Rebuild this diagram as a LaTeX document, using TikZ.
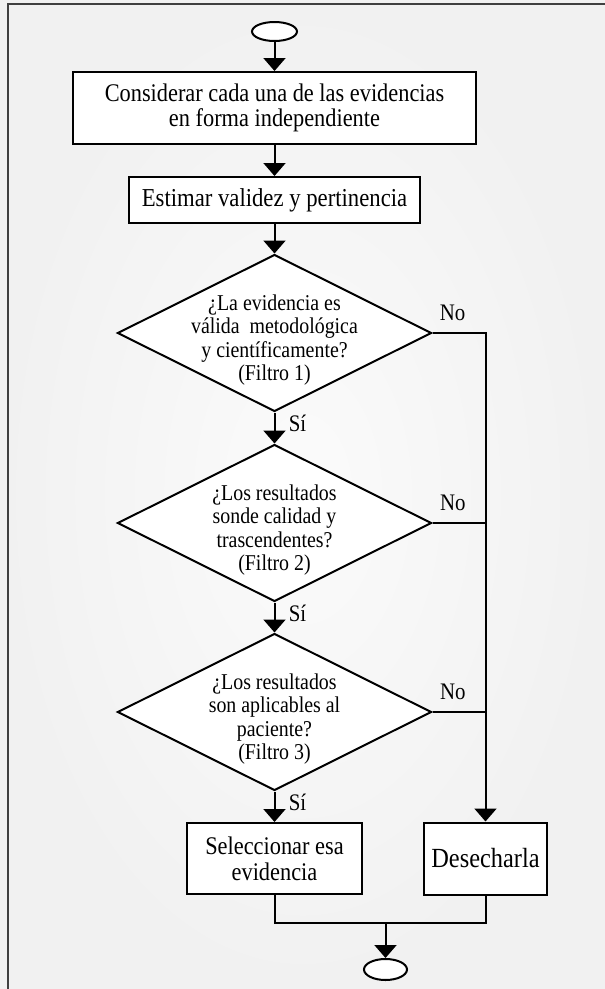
\documentclass[tikz,border=0pt]{standalone}
\usepackage{fontspec}
\setmainfont{Liberation Serif}[FakeStretch=0.88]
\usetikzlibrary{shapes.geometric, arrows.meta, positioning}

\begin{document}
\begin{tikzpicture}[x=1pt,y=-1pt,->,>={Triangle[width=22pt,length=13pt]},line width=2pt]
       \tikzstyle{terminal}=[ellipse,draw,fill=white,inner sep=0pt,minimum width=45pt,minimum height=19pt]
       \tikzstyle{task}=[rectangle,draw,fill=white,align=center,font=\fontsize{25.4}{25.7}\selectfont]
       \tikzstyle{decision}=[diamond,draw,fill=white,inner sep=0pt,minimum width=314pt,minimum height=157pt]
       \tikzstyle{ask}=[align=center,font=\fontsize{22.6}{23.3}\selectfont,yshift=-7pt]
       \tikzstyle{answer}=[font=\fontsize{23.7}{24}\selectfont]

       % fondo y marco
       \useasboundingbox (0,0) rectangle (605,989);
       \shade[inner color=gray!3,outer color=gray!11] (0,0) rectangle (605,989);
       \draw[-,line width=1.2pt,black!75] (8,995) -- (8,4) -- (608,4);

       \node[terminal] (A) at (274.5,31.5) {};

       \node[task] (B) [below of=A, node distance=76.5pt, minimum width=403pt, minimum height=72pt] {Considerar cada una de las evidencias\\en forma independiente};
       \node[task] (C) [below of=B, node distance=92pt, minimum width=291pt, minimum height=46pt, font=\fontsize{25.8}{28}\selectfont] {Estimar validez y pertinencia};

       \node[decision] (D) [below of=C, node distance=133pt, label={[ask]center:{¿La evidencia es\\válida\ \ metodológica\\y científicamente?\\(Filtro 1)}}] {};
       \node[decision] (E) [below of=D, node distance=190pt, label={[ask]center:{¿Los resultados\\sonde calidad y\\trascendentes?\\(Filtro 2)}}] {};
       \node[decision] (F) [below of=E, node distance=189pt, label={[ask]center:{¿Los resultados\\son aplicables al\\paciente?\\(Filtro 3)}}] {};

       \node[task] (G) [below of=F, node distance=146.5pt, minimum width=175pt, minimum height=71pt] {Seleccionar esa\\evidencia};
       \node[task] (H) [right of=G, node distance=211pt, minimum width=123pt, minimum height=72pt, font=\fontsize{27.7}{28}\selectfont] {Desecharla};

       \coordinate (J) at (385.5,923);
       \node[terminal] (I) at (385.5,969.5) [minimum width=43pt, minimum height=21pt] {};

       \path (A) edge (B)
             (B) edge (C)
             (C) edge (D)
             (D) edge node[answer, right=10pt, pos=0.35] {Sí} (E)
             (E) edge node[answer, right=10pt, pos=0.35] {Sí} (F)
             (F) edge node[answer, right=10pt, pos=0.35] {Sí} (G)
             (J) edge (I);

       \draw (D) -| node[answer, above=8pt, pos=0.19] {No} (H);
       \draw[-] (E) -- node[answer, above=8pt, pos=0.385] {No} (E -| H);
       \draw[-] (F) -- node[answer, above=8pt, pos=0.385] {No} (F -| H);
       \draw[-] (G) |- (J) -| (H);
\end{tikzpicture}
\end{document}
